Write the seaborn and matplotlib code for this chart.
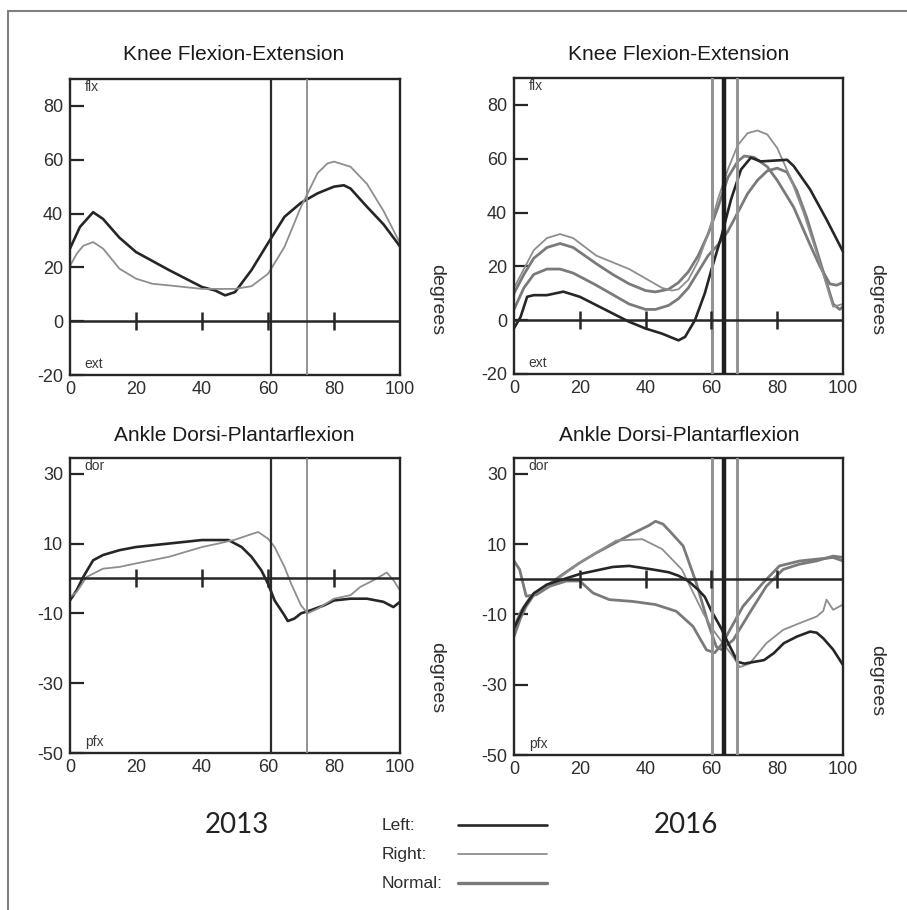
import numpy as np
import pandas as pd
import matplotlib
matplotlib.use("Agg")
import matplotlib.pyplot as plt
import seaborn as sns
from matplotlib.lines import Line2D

# ---------------- data ----------------
# 2013 knee
knee13_left_x = [0, 3, 7, 10, 15, 20, 30, 40, 44, 47, 50, 55, 60, 65, 70, 75, 80, 83, 85, 90, 95, 100]
knee13_left_y = [27, 35, 40.5, 38, 31, 25.7, 19, 12.7, 11.4, 9.6, 10.8, 19, 29, 38.8, 44, 47.5, 50, 50.5, 49.3, 42.5, 36, 27.8]
knee13_right_x = [0, 2, 4, 7, 10, 15, 20, 25, 30, 40, 50, 55, 60, 65, 70, 75, 78, 80, 85, 90, 95, 100]
knee13_right_y = [20.5, 25, 28, 29.4, 27, 19.5, 15.8, 13.9, 13.3, 12, 12, 13, 17.6, 27.6, 42.5, 55, 58.6, 59.3, 57.4, 51, 41, 29]

# 2013 ankle
ankle13_left_x = [0, 2, 4, 7, 10, 15, 20, 30, 40, 48, 52, 55, 58, 60, 62, 65, 66, 68, 70, 73, 77, 80, 85, 90, 95, 98, 100]
ankle13_left_y = [-6.3, -3.4, 0.4, 5.2, 6.7, 8.1, 9, 10, 11, 11, 9, 6.2, 2.3, -1.5, -6.3, -10.6, -12.2, -11.5, -10, -9.1, -7.7, -6.3, -5.8, -5.8, -6.7, -8.2, -6.7]
ankle13_right_x = [0, 2, 5, 10, 15, 20, 30, 40, 45, 50, 55, 57, 60, 62, 65, 67, 70, 72, 75, 80, 85, 88, 92, 96, 98, 100]
ankle13_right_y = [-5.3, -3.9, 0.4, 2.8, 3.3, 4.3, 6.2, 9, 10, 11.1, 12.7, 13.3, 11.4, 9, 3.3, -1.5, -7.7, -10, -8.7, -5.8, -4.8, -2.4, -0.5, 1.7, -0.5, -3.4]

# 2016 knee
knee16_left_x = [0, 2, 4, 6, 10, 15, 20, 25, 30, 35, 40, 45, 50, 52, 55, 58, 60, 63, 66, 69, 72, 75, 83, 85, 90, 95, 100]
knee16_left_y = [-3, 1.2, 8.7, 9.3, 9.3, 10.6, 8.7, 5.6, 2.5, -0.6, -3.1, -5, -7.5, -6.2, 0, 10, 18.7, 31, 45, 56, 60.4, 59, 59.6, 57.3, 48.6, 37.4, 25.5]
knee16_right_x = [0, 3, 6, 10, 14, 18, 25, 30, 35, 40, 45, 48, 50, 53, 56, 59, 62, 65, 68, 71, 74, 77, 80, 84, 88, 92, 95, 97, 100]
knee16_right_y = [12, 19, 26, 30.5, 32, 30.5, 24, 21.5, 19, 15.5, 12, 11, 11.5, 15, 22, 32, 45, 56, 65, 69.5, 70.5, 69, 64, 53, 40, 25, 13, 5, 6]
knee16_normhi_x = [0, 3, 6, 10, 14, 18, 25, 30, 35, 40, 43, 47, 50, 53, 56, 59, 62, 65, 68, 70, 73, 77, 80, 85, 90, 93, 96, 98, 100]
knee16_normhi_y = [10, 17, 23, 27, 28.5, 27, 21, 17, 13.5, 11, 10.5, 11.5, 14, 18, 24, 32, 42, 53, 59, 61, 60.5, 57, 52, 42, 28, 20, 13.5, 13, 14]
knee16_normlo_x = [0, 3, 6, 10, 14, 18, 25, 30, 35, 40, 43, 47, 50, 53, 56, 59, 62, 65, 68, 71, 74, 77, 80, 83, 86, 89, 92, 95, 97, 99, 100]
knee16_normlo_y = [4, 12, 17, 19, 19, 17.5, 13, 9.5, 6, 4, 4, 5.5, 8, 12, 18, 24, 28, 33, 40, 47, 52, 55.5, 56.5, 55, 48, 38, 26, 14, 6, 4, 5]

# 2016 ankle
ankle16_left_x = [0, 3, 6, 10, 15, 20, 25, 30, 35, 42, 47, 50, 53, 56, 58, 60, 63, 65, 68, 70, 73, 76, 79, 82, 86, 90, 92, 94, 97, 100]
ankle16_left_y = [-14, -8, -4, -1.5, 0, 1.5, 2.5, 3.5, 3.8, 2.8, 2, 1, -0.5, -3, -5, -9, -14, -18, -23.5, -24, -23.5, -23, -21, -18.2, -16.3, -14.9, -15.2, -16.8, -20, -24.4]
ankle16_right_x = [0, 2, 5, 11, 20, 31, 39, 45, 51, 57.5, 60.5, 63.5, 66.6, 68.6, 71.6, 76.7, 81.8, 86.8, 92, 94, 95, 97, 100]
ankle16_right_y = [-13.4, -9, -4.8, -1.5, 4.7, 11, 11.4, 8.6, 2.8, -9.6, -14.4, -18.2, -22, -25, -24, -18.2, -14.4, -12.5, -10.6, -9, -5.8, -8.7, -7.2]
ankle16_normhi_x = [0, 2, 3.7, 6, 9.8, 15, 20, 25, 31, 36, 41, 43, 45.3, 48, 51.4, 55.4, 59, 61.5, 63, 66.6, 71.6, 76.7, 81.8, 86.8, 91.9, 97, 100]
ankle16_normhi_y = [-16.3, -11, -7.7, -4.5, -2, 1.5, 4.7, 7.5, 10.5, 13, 15.3, 16.5, 15.7, 13, 9.5, -1, -12.5, -19.2, -20, -17.3, -9.6, -2, 2.8, 4.3, 5.2, 6.6, 6.2]
ankle16_normlo_x = [0, 1.7, 3.7, 6.8, 10.8, 15.9, 20, 24, 29, 36, 43, 49.3, 54.4, 58.5, 61, 63, 64.5, 69.6, 75.7, 80.7, 86.8, 97, 100]
ankle16_normlo_y = [5.2, 2.8, -4.8, -4.4, -2, -0.5, -0.5, -3.9, -5.8, -6.3, -7.2, -9.1, -13.4, -20.1, -20.9, -18.7, -16.3, -7.7, -1, 3.8, 5.2, 6.2, 5.2]

# toe-off event lines (% gait cycle)
events13 = {"Left": 60.8, "Right": 71.7}
events16 = {"Normal": 60.2, "Left": 63.7, "Right": 67.8}

x_ticks = [0, 20, 40, 60, 80, 100]
knee_yticks = [-20, 0, 20, 40, 60, 80]
ankle_yticks = [-50, -30, -10, 10, 30]
knee_ylim = (-20, 90)
ankle_ylim = (-50, 34.5)

titles = ["Knee Flexion-Extension", "Knee Flexion-Extension",
          "Ankle Dorsi-Plantarflexion", "Ankle Dorsi-Plantarflexion"]
years = ["2013", "2016"]
legend_labels = ["Left:", "Right:", "Normal:"]

# ---------------- styling ----------------
sns.set_theme(style="white")
plt.rcParams['font.family'] = ['Liberation Sans', 'DejaVu Sans']
plt.rcParams['axes.unicode_minus'] = False

STY = {
    "Left": dict(color="#262626", lw=1.9),
    "Right": dict(color="#8e8e8e", lw=1.3),
    "Normal": dict(color="#7a7a7a", lw=2.0),
}
EV_STY = {
    "Left": dict(color="#2b2b2b", lw=1.6),
    "Right": dict(color="#8a8a8a", lw=1.3),
    "Normal": dict(color="#9a9a9a", lw=2.0),
}
EV_STY16 = {
    "Left": dict(color="#1e1e1e", lw=3.2),
    "Right": dict(color="#949494", lw=2.2),
    "Normal": dict(color="#949494", lw=2.2),
}

W, H = 907, 910
fig = plt.figure(figsize=(W / 100, H / 100), dpi=100)


def fbox(l, t, r, b):
    return [l / W, 1 - b / H, (r - l) / W, (b - t) / H]


def draw_panel(rect, series, events, ev_sty, ylim, yticks, top_lab, bot_lab, title, title_xy, deg_xy):
    ax = fig.add_axes(rect)
    ax.set_facecolor("white")
    for xs, ys, kind in series:
        df = pd.DataFrame({"pct": xs, "angle": ys})
        sns.lineplot(data=df, x="pct", y="angle", ax=ax, sort=False,
                     color=STY[kind]["color"], linewidth=STY[kind]["lw"])
    for kind, xv in events.items():
        ax.axvline(xv, **ev_sty[kind], zorder=3)
    ax.axhline(0, color="#262626", lw=1.8, zorder=3)
    ax.plot(x_ticks[1:], [0] * (len(x_ticks) - 1), ls="none", marker="|",
            ms=13, mew=1.8, color="#262626", zorder=4)
    ax.set_xlim(0, 100)
    ax.set_ylim(*ylim)
    ax.set_xticks(x_ticks)
    ax.set_yticks(yticks)
    ax.set_xticklabels([str(v) for v in x_ticks])
    ax.set_yticklabels([str(v) for v in yticks])
    ax.tick_params(axis="x", length=0, pad=4, labelsize=13, labelcolor="#2e2e2e")
    ax.tick_params(axis="y", direction="in", length=10, width=1.6, color="#262626",
                   pad=5, labelsize=13, labelcolor="#2e2e2e", left=True)
    ax.set_xlabel("")
    ax.set_ylabel("")
    for sp in ax.spines.values():
        sp.set_visible(True)
        sp.set_color("#262626")
        sp.set_linewidth(1.7)
    ax.text(0.045, 0.995, top_lab, transform=ax.transAxes, va="top", ha="left",
            fontsize=10, color="#3a3a3a")
    ax.text(0.045, 0.012, bot_lab, transform=ax.transAxes, va="bottom", ha="left",
            fontsize=10, color="#3a3a3a")
    fig.text(title_xy[0] / W, 1 - title_xy[1] / H, title, ha="center", va="center",
             fontsize=15, color="#1a1a1a")
    fig.text(deg_xy[0] / W, 1 - deg_xy[1] / H, "degrees", ha="center", va="center",
             rotation=-90, fontsize=14, color="#2e2e2e")
    return ax


draw_panel(fbox(70, 79, 400, 375),
           [(knee13_left_x, knee13_left_y, "Left"), (knee13_right_x, knee13_right_y, "Right")],
           events13, EV_STY, knee_ylim, knee_yticks, "flx", "ext", titles[0], (234, 54), (437, 300))
draw_panel(fbox(514, 78, 843, 374),
           [(knee16_normhi_x, knee16_normhi_y, "Normal"), (knee16_normlo_x, knee16_normlo_y, "Normal"),
            (knee16_right_x, knee16_right_y, "Right"), (knee16_left_x, knee16_left_y, "Left")],
           events16, EV_STY16, knee_ylim, knee_yticks, "flx", "ext", titles[1], (679, 55), (877, 300))
draw_panel(fbox(70, 458, 400, 753),
           [(ankle13_left_x, ankle13_left_y, "Left"), (ankle13_right_x, ankle13_right_y, "Right")],
           events13, EV_STY, ankle_ylim, ankle_yticks, "dor", "pfx", titles[2], (234, 435), (437, 678))
draw_panel(fbox(514, 458, 843, 755),
           [(ankle16_normhi_x, ankle16_normhi_y, "Normal"), (ankle16_normlo_x, ankle16_normlo_y, "Normal"),
            (ankle16_right_x, ankle16_right_y, "Right"), (ankle16_left_x, ankle16_left_y, "Left")],
           events16, EV_STY16, ankle_ylim, ankle_yticks, "dor", "pfx", titles[3], (679, 435), (877, 681))

# year labels
fig.text(237 / W, 1 - 825 / H, years[0], ha="center", va="center", fontsize=20,
         family=["Lato", "DejaVu Sans"], color="#222222")
fig.text(686 / W, 1 - 825 / H, years[1], ha="center", va="center", fontsize=20,
         family=["Lato", "DejaVu Sans"], color="#222222")

# legend
leg_y = [825, 854, 883]
leg_kinds = ["Left", "Right", "Normal"]
for lab, yy, kind in zip(legend_labels, leg_y, leg_kinds):
    fig.text(382 / W, 1 - yy / H, lab, ha="left", va="center", fontsize=12.5, color="#2e2e2e")
    fig.add_artist(Line2D([458 / W, 547 / W], [1 - yy / H, 1 - yy / H], transform=fig.transFigure,
                          color=STY[kind]["color"], lw=STY[kind]["lw"] + (0.4 if kind == "Normal" else 0)))

# outer frame (left and top edges)
fig.add_artist(Line2D([8 / W, 8 / W], [0, 1 - 11 / H], transform=fig.transFigure, color="#7f7f7f", lw=1.5))
fig.add_artist(Line2D([8 / W, 1], [1 - 11 / H, 1 - 11 / H], transform=fig.transFigure, color="#7f7f7f", lw=1.5))

fig.savefig("out.png", dpi=100, facecolor="white")
